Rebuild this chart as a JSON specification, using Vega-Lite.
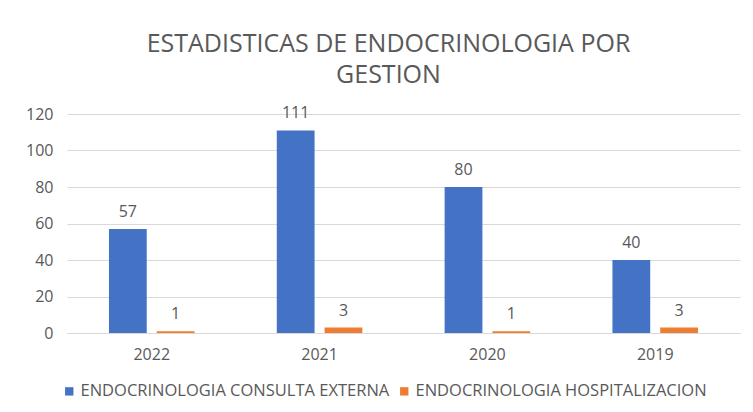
{
  "$schema": "https://vega.github.io/schema/vega-lite/v6.json",
  "autosize": {"type": "none"},
  "width": 673,
  "height": 219,
  "padding": {"left": 67, "top": 114, "right": 13, "bottom": 79},
  "background": "white",
  "title": {
    "text": ["ESTADISTICAS DE ENDOCRINOLOGIA POR", "GESTION"],
    "font": "Open Sans",
    "fontSize": 25,
    "fontWeight": "normal",
    "color": "#595959",
    "anchor": "middle",
    "dx": -15,
    "offset": 17,
    "lineHeight": 31
  },
  "data": {
    "values": [
      {"year": "2022", "serie": "ENDOCRINOLOGIA  CONSULTA EXTERNA", "valor": 57},
      {"year": "2022", "serie": "ENDOCRINOLOGIA  HOSPITALIZACION", "valor": 1},
      {"year": "2021", "serie": "ENDOCRINOLOGIA  CONSULTA EXTERNA", "valor": 111},
      {"year": "2021", "serie": "ENDOCRINOLOGIA  HOSPITALIZACION", "valor": 3},
      {"year": "2020", "serie": "ENDOCRINOLOGIA  CONSULTA EXTERNA", "valor": 80},
      {"year": "2020", "serie": "ENDOCRINOLOGIA  HOSPITALIZACION", "valor": 1},
      {"year": "2019", "serie": "ENDOCRINOLOGIA  CONSULTA EXTERNA", "valor": 40},
      {"year": "2019", "serie": "ENDOCRINOLOGIA  HOSPITALIZACION", "valor": 3}
    ]
  },
  "encoding": {
    "x": {
      "field": "year", "type": "nominal", "sort": ["2022", "2021", "2020", "2019"],
      "scale": {"paddingInner": 0.49, "paddingOuter": 0.25},
      "axis": {
        "title": null, "labelAngle": 0, "labelFont": "Open Sans",
        "labelFontSize": 16, "labelColor": "#595959", "labelPadding": 13,
        "ticks": false, "domain": true, "domainColor": "#d9d9d9", "grid": false
      }
    },
    "xOffset": {
      "field": "serie", "type": "nominal",
      "scale": {"paddingInner": 0.21, "paddingOuter": 0}
    },
    "y": {
      "field": "valor", "type": "quantitative",
      "scale": {"domain": [0, 120]},
      "axis": {
        "title": null, "values": [0, 20, 40, 60, 80, 100, 120],
        "labelFont": "Open Sans", "labelFontSize": 16,
        "labelColor": "#595959", "labelPadding": 14, "ticks": false,
        "domain": false, "gridColor": "#d9d9d9", "gridWidth": 1
      }
    }
  },
  "layer": [
    {
      "mark": {"type": "bar"},
      "encoding": {
        "color": {
          "field": "serie", "type": "nominal",
          "scale": {"range": ["#4472C4", "#ED7D31"]},
          "legend": {
            "title": null, "orient": "none", "direction": "horizontal",
            "legendX": -6, "legendY": 269,
            "symbolType": "square", "symbolSize": 70,
            "labelFont": "Open Sans", "labelFontSize": 16.5,
            "labelColor": "#595959", "columnPadding": 2, "labelOffset": 3,
            "labelLimit": 0, "symbolStrokeWidth": 0
          }
        }
      }
    },
    {
      "mark": {"type": "text", "dy": -17, "font": "Open Sans", "fontSize": 16, "color": "#595959"},
      "encoding": {"text": {"field": "valor", "type": "quantitative"}}
    }
  ],
  "config": {"view": {"stroke": null}}
}
